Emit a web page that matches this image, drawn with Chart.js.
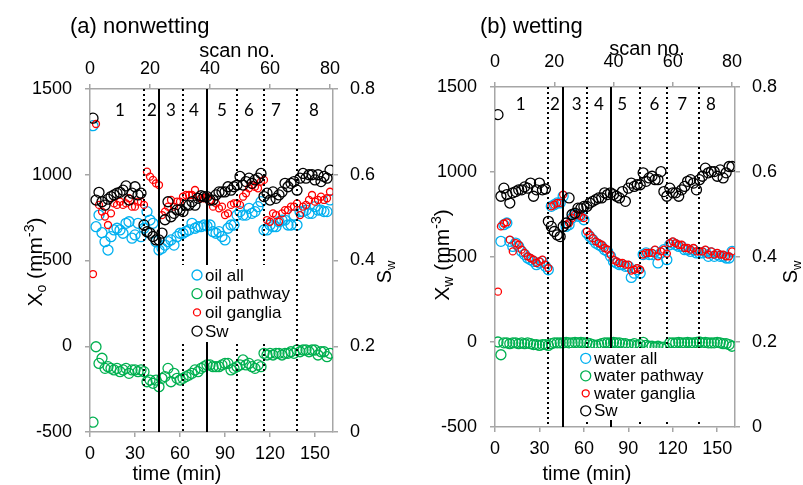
<!DOCTYPE html>
<html>
<head>
<meta charset="utf-8">
<script src="https://cdn.jsdelivr.net/npm/chart.js@4.4.1/dist/chart.umd.min.js"></script>
<style>
  html, body { margin: 0; padding: 0; background: #fff; }
  #wrap { position: relative; width: 803px; height: 485px; overflow: hidden; background: #fff; }
  canvas { position: absolute; top: 0; }
  #panelA { left: 0; }
  #panelB { left: 400px; }
</style>
</head>
<body>
<div id="wrap">
  <canvas id="panelA" width="400" height="485"></canvas>
  <canvas id="panelB" width="403" height="485"></canvas>
</div>
<script>
// ---- time of each scan (min) ----
const times = [2,4,6,8,10,12,14,16,18,20,22,24,26,28,30,32,34,36,38,40,
  42,44,46,48,50,52,54,56,58,60,62,64,66,68,70,72,74,76,78,80,
  82,84,86,88,90,92,94,96,98,100,102,104,106,108,110,112,114,116,118,120,
  122,124,126,128,130,132,134,136,138,140,142,144,146,148,150,152,154,156,158,160];

// ---- axis ticks ----
const timeTicks = [0, 30, 60, 90, 120, 150];
const scanTicks = [0, 20, 40, 60, 80];
const chiTicks = [-500, 0, 500, 1000, 1500];
const swTicks = [0, 0.2, 0.4, 0.6, 0.8];

// ---- stage boundaries (min) and stage numbers ----
const dottedTimes = [36, 62, 98, 116, 138];
const solidTimes = [46, 78];
const stageLabels = ['1', '2', '3', '4', '5', '6', '7', '8'];
const stageCentersA = [20, 41.3, 54, 69.3, 88, 106, 124, 149.3];
const stageCentersB = [17.3, 40.4, 55.2, 70.2, 85.9, 107.6, 126.3, 145.8];

// ---- (a) nonwetting phase ----
const oilAll = [1286,697,765,662,610,561,639,678,688,678,659,717,726,630,649,717,639,688,
  785,736,717,610,561,
  571,590,610,620,590,639,659,659,
  669,678,717,688,697,697,707,701,
  707,668,659,668,640,620,688,707,707,765,
  785,765,765,804,775,785,814,843,678,
  678,707,697,697,726,736,736,707,707,765,707,
  785,785,794,775,775,814,794,794,785,785,853];
const oilPathway = [-443,-3,-100,-70,-129,-119,-129,-138,-129,-148,-138,-129,-158,-138,-138,-148,-138,-148,
  -207,-197,-216,-197,-236,
  -187,-177,-129,-207,-158,-187,-197,-187,
  -177,-168,-158,-138,-148,-129,-119,-109,
  -109,-119,-119,-119,-109,-100,-100,-138,-129,-119,
  -109,-80,-109,-100,-119,-129,-109,-119,-41,
  -51,-41,-51,-41,-41,-51,-41,-41,-32,-41,-22,
  -32,-22,-22,-32,-22,-22,-51,-32,-32,-61,-41];
const oilGanglia = [421,1296,824,785,756,707,775,833,824,843,824,833,863,814,814,843,843,824,
  1018,989,970,950,940,
  765,785,814,853,814,843,843,872,
  882,882,882,911,872,863,863,872,
  853,814,833,804,814,765,775,824,833,833,
  824,872,892,921,940,930,921,960,970,
  736,726,775,765,726,775,794,794,814,814,833,
  765,814,824,853,882,843,853,872,853,863,901];
const swA = [0.732,0.541,0.559,0.537,0.529,0.543,0.549,0.553,0.557,0.559,0.564,0.574,0.541,0.557,0.572,0.553,0.557,0.483,
  0.467,0.464,0.456,0.448,0.448,
  0.464,0.495,0.537,0.502,0.510,0.518,0.518,0.514,
  0.529,0.529,0.537,0.529,0.545,0.551,0.549,0.549,
  0.541,0.541,0.553,0.560,0.560,0.560,0.572,0.564,0.572,0.576,
  0.596,0.576,0.584,0.592,0.580,0.588,0.592,0.603,0.549,
  0.557,0.541,0.560,0.545,0.553,0.560,0.580,0.572,0.580,0.584,0.564,
  0.592,0.603,0.592,0.600,0.600,0.588,0.600,0.584,0.596,0.592,0.611];

// ---- (b) wetting phase ----
const waterAll = [null,592,690,700,592,562,582,562,533,514,494,484,474,455,465,474,445,425,
  798,808,818,818,857,
  680,690,729,749,739,739,719,641,
  621,602,582,572,562,543,533,504,
  474,465,455,455,445,445,380,405,425,405,
  514,524,514,514,533,465,524,543,484,
  572,582,572,562,562,543,543,533,543,524,524,
  524,533,504,524,504,514,504,504,494,494,533];
const waterPathway = [0,-75,-5,-5,-10,-5,-5,-10,-5,-10,-5,-10,-15,-15,-20,-15,-15,-20,
  -10,-5,-5,-5,-5,
  -2,-5,-5,-2,-5,-2,-5,-5,
  -10,-15,-20,-15,-10,-5,-5,-5,
  -2,-5,-5,-10,-10,-15,-15,-10,-20,-15,
  -2,-20,-25,-25,-30,-25,-30,-30,-35,
  -5,-5,-5,-2,-5,-5,-2,-5,-5,-2,0,
  -5,-2,-5,-5,-5,-2,-5,-10,-10,-15,-25];
const waterGanglia = [296,680,697,704,602,533,582,572,543,524,504,494,484,465,474,484,455,435,
  798,808,818,818,867,
  690,700,729,749,749,739,729,651,
  631,611,592,582,572,553,543,514,
  484,474,465,465,455,455,420,425,435,425,
  514,524,524,524,543,504,533,543,520,
  582,592,582,572,572,553,553,543,553,533,533,
  533,543,514,533,514,524,514,514,504,504,533];
const swB = [0.735,0.543,0.562,0.547,0.527,0.551,0.554,0.558,0.558,0.565,0.562,0.574,0.543,0.558,0.574,0.558,0.560,0.484,
  0.472,0.460,0.452,0.448,0.472,
  0.480,0.539,0.500,0.503,0.515,0.515,0.519,0.519,
  0.527,0.531,0.535,0.539,0.539,0.551,0.547,0.551,
  0.547,0.543,0.539,0.554,0.531,0.562,0.574,0.566,0.570,0.570,
  0.598,0.578,0.586,0.590,0.582,0.582,0.601,0.554,0.543,
  0.562,0.551,0.551,0.543,0.558,0.566,0.578,0.582,0.574,0.558,0.582,
  0.590,0.609,0.598,0.601,0.601,0.590,0.605,0.586,0.598,0.613,0.613];

const FONT = '"Liberation Sans", Arial, Helvetica, sans-serif';
const AXIS_GREY = '#a6a6a6';

function points(values) {
  const out = [];
  values.forEach((v, i) => { if (v !== null) out.push({ x: times[i], y: v }); });
  return out;
}

// Text with sub/superscript pieces, centred on (cx, cy), optionally rotated
function drawRich(ctx, parts, cx, cy, rot) {
  ctx.save();
  ctx.translate(cx, cy);
  if (rot) ctx.rotate(rot);
  let w = 0;
  parts.forEach(p => { ctx.font = p.size + 'px ' + FONT; p.w = ctx.measureText(p.text).width; w += p.w; });
  let x = -w / 2;
  ctx.textAlign = 'left';
  ctx.textBaseline = 'alphabetic';
  ctx.fillStyle = '#000';
  parts.forEach(p => {
    ctx.font = p.size + 'px ' + FONT;
    ctx.fillText(p.text, x, 7 + (p.dy || 0));
    x += p.w;
  });
  ctx.restore();
}

// Stage lines, stage numbers, legend box and axis titles
const decorPlugin = {
  id: 'decor',
  afterDatasetsDraw(chart, args, o) {
    const { ctx, chartArea: a } = chart;
    const xs = chart.scales.x;
    ctx.save();
    ctx.strokeStyle = '#000';
    ctx.lineWidth = 2;
    dottedTimes.forEach(t => {
      const px = Math.round(xs.getPixelForValue(t));
      ctx.setLineDash([2, 3]);
      ctx.beginPath(); ctx.moveTo(px, a.top); ctx.lineTo(px, a.bottom); ctx.stroke();
    });
    solidTimes.forEach(t => {
      const px = Math.round(xs.getPixelForValue(t));
      ctx.setLineDash([]);
      ctx.beginPath(); ctx.moveTo(px, a.top); ctx.lineTo(px, a.bottom); ctx.stroke();
    });
    ctx.setLineDash([]);

    // stage numbers
    ctx.font = '17px Lato, ' + FONT;
    ctx.fillStyle = '#000';
    ctx.textAlign = 'center';
    ctx.textBaseline = 'middle';
    stageLabels.forEach((s, i) => ctx.fillText(s, xs.getPixelForValue(o.stageCenters[i]), o.stageY));

    // legend
    const L = o.legend;
    ctx.fillStyle = '#fff';
    ctx.fillRect(L.x, L.y, L.w, L.h);
    ctx.font = L.size + 'px ' + FONT;
    ctx.textAlign = 'left';
    ctx.textBaseline = 'middle';
    chart.data.datasets.forEach((ds, i) => {
      const y = L.y0 + i * L.dy;
      ctx.beginPath();
      ctx.arc(L.mx, y, ds.pointRadius, 0, Math.PI * 2);
      ctx.strokeStyle = ds.borderColor;
      ctx.lineWidth = 1.3;
      ctx.stroke();
      ctx.fillStyle = '#000';
      ctx.fillText(ds.label, L.tx, y + 1);
    });
    ctx.restore();
  },
  afterDraw(chart, args, o) {
    const ctx = chart.ctx;
    ctx.save();
    ctx.fillStyle = '#000';
    ctx.textBaseline = 'alphabetic';
    ctx.textAlign = 'left';
    ctx.font = '22px ' + FONT;
    ctx.fillText(o.title, o.titleX, o.titleY);
    ctx.font = '20px ' + FONT;
    ctx.textAlign = 'center';
    ctx.fillText('scan no.', o.scanX, o.scanY);
    ctx.fillText('time (min)', o.timeX, o.timeY);
    drawRich(ctx, [
      { text: 'Χ', size: 21 },
      { text: o.sub, size: 14, dy: 4 },
      { text: ' (mm', size: 21 },
      { text: '-3', size: 14, dy: -8 },
      { text: ')', size: 21 }
    ], o.yTitleX, o.yTitleY, -Math.PI / 2);
    drawRich(ctx, [
      { text: 'S', size: 20 },
      { text: 'w', size: 13, dy: 4 }
    ], o.swTitleX, o.swTitleY, -Math.PI / 2);
    ctx.restore();
  }
};

function axis(position, min, max, tickValues, fitSize, pad, fmt) {
  const horizontal = position === 'top' || position === 'bottom';
  return {
    type: 'linear',
    position: position,
    min: min,
    max: max,
    afterBuildTicks: s => { s.ticks = tickValues.map(v => ({ value: v })); },
    afterFit: s => { if (horizontal) s.height = fitSize; else s.width = fitSize; },
    grid: { drawOnChartArea: false, drawTicks: true, tickLength: 5, color: AXIS_GREY, lineWidth: 1.5 },
    border: { display: true, color: AXIS_GREY, width: 1.5 },
    ticks: {
      color: '#000',
      font: { family: FONT, size: 18 },
      padding: pad,
      maxRotation: 0,
      autoSkip: false,
      callback: fmt || (v => String(v))
    }
  };
}

function buildPanel(canvas, p) {
  return new Chart(canvas, {
    type: 'scatter',
    data: {
      datasets: [
        { label: p.names[0], data: points(p.all), borderColor: '#00B0F0', pointRadius: 5, pointBorderWidth: 1.3, pointBackgroundColor: 'rgba(0,0,0,0)', yAxisID: 'y', order: 4 },
        { label: p.names[1], data: points(p.pathway), borderColor: '#00B050', pointRadius: 5, pointBorderWidth: 1.3, pointBackgroundColor: 'rgba(0,0,0,0)', yAxisID: 'y', order: 3 },
        { label: p.names[2], data: points(p.ganglia), borderColor: '#FF0000', pointRadius: 3.5, pointBorderWidth: 1.3, pointBackgroundColor: 'rgba(0,0,0,0)', yAxisID: 'y', order: 2 },
        { label: 'Sw', data: points(p.sw), borderColor: '#000000', pointRadius: 5, pointBorderWidth: 1.3, pointBackgroundColor: 'rgba(0,0,0,0)', yAxisID: 'ySw', order: 1 }
      ]
    },
    options: {
      responsive: false,
      devicePixelRatio: 1,
      animation: false,
      events: [],
      layout: { padding: 0 },
      plugins: {
        legend: { display: false },
        tooltip: { enabled: false },
        decor: p.decor
      },
      scales: {
        x: axis('bottom', 0, 162, timeTicks, p.box.bottomH, p.box.padBottom),
        xTop: axis('top', 0, 81, scanTicks, p.box.topH, p.box.padTop),
        y: axis('left', -500, 1500, chiTicks, p.box.leftW, p.box.padLeft),
        ySw: axis('right', 0, 0.8, swTicks, p.box.rightW, p.box.padRight, v => (v === 0 ? '0' : v.toFixed(1)))
      }
    },
    plugins: [decorPlugin]
  });
}

buildPanel(document.getElementById('panelA'), {
  names: ['oil all', 'oil pathway', 'oil ganglia'],
  all: oilAll, pathway: oilPathway, ganglia: oilGanglia, sw: swA,
  box: { leftW: 90, rightW: 67, topH: 89, bottomH: 53, padLeft: 13, padRight: 12, padTop: 4, padBottom: 6 },
  decor: {
    stageCenters: stageCentersA, stageY: 111,
    legend: { x: 179, y: 265, w: 114, h: 77, mx: 197, y0: 275, dy: 18.7, tx: 205, size: 17 },
    title: '(a) nonwetting', titleX: 70, titleY: 33,
    scanX: 237, scanY: 57, timeX: 177, timeY: 480,
    sub: 'o', yTitleX: 35, yTitleY: 262,
    swTitleX: 384, swTitleY: 272
  }
});

buildPanel(document.getElementById('panelB'), {
  names: ['water all', 'water pathway', 'water ganglia'],
  all: waterAll, pathway: waterPathway, ganglia: waterGanglia, sw: swB,
  box: { leftW: 95, rightW: 68, topH: 87, bottomH: 58, padLeft: 13, padRight: 12, padTop: 9, padBottom: 6 },
  decor: {
    stageCenters: stageCentersB, stageY: 105,
    legend: { x: 170, y: 348, w: 136, h: 72, mx: 185.7, y0: 358.3, dy: 17.5, tx: 194, size: 17 },
    title: '(b) wetting', titleX: 80, titleY: 33,
    scanX: 247, scanY: 55, timeX: 187, timeY: 480,
    sub: 'w', yTitleX: 42, yTitleY: 255,
    swTitleX: 390, swTitleY: 272
  }
});
</script>
</body>
</html>
